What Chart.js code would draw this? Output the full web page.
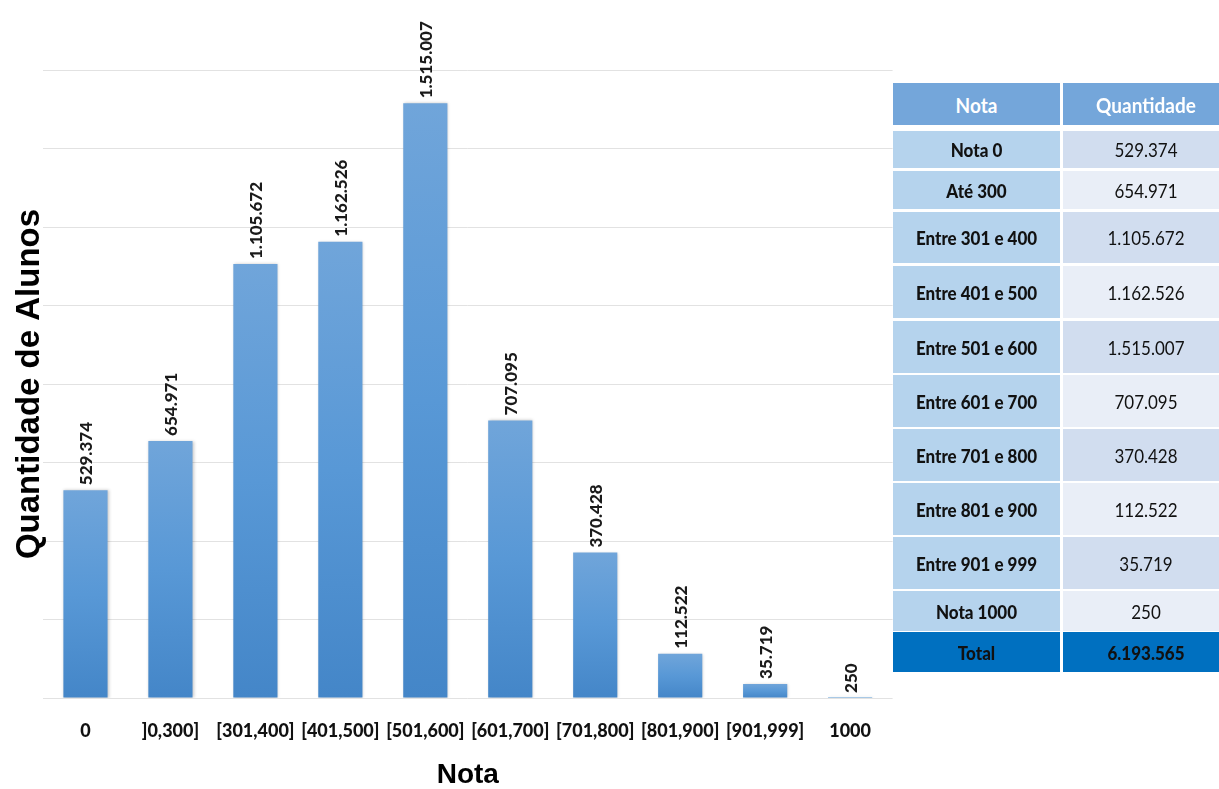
<!DOCTYPE html>
<html>
<head>
<meta charset="utf-8">
<script src="https://cdn.jsdelivr.net/npm/chart.js@4/dist/chart.umd.min.js"></script>
<style>
  html, body { margin: 0; padding: 0; background: #fff; overflow: hidden; }
  body { width: 1219px; height: 789px; position: relative; }
  #wrap { position: absolute; left: 0; top: 0; width: 893px; height: 789px; }
  #tbl { position: absolute; left: 0; top: 0; width: 1219px; height: 789px; pointer-events: none; }
  .cell { position: absolute; display: flex; align-items: center; justify-content: center;
          font-family: Lato, "Open Sans", sans-serif; font-size: 17px; color: #111; box-sizing: border-box; }
  .cell span { display: inline-block; transform: scaleY(1.12); }
  .hdr { background: #74a6da; color: #fff; font-weight: 700; font-size: 19px; }
  .lab { background: #b5d3ed; font-weight: 900; }
  .valD { background: #d1ddef; }
  .valL { background: #e9eef7; }
  .tot { background: #0070c0; font-weight: 900; color: #111; }
</style>
</head>
<body>
<div id="wrap"><canvas id="c"></canvas></div>
<div id="tbl"></div>
<script>
// ---- data ----
const categories = [ '0', ']0,300]', '[301,400]', '[401,500]', '[501,600]', '[601,700]', '[701,800]', '[801,900]', '[901,999]', '1000' ];
const values = [ 529374, 654971, 1105672, 1162526, 1515007, 707095, 370428, 112522, 35719, 250 ];
const tableLabels = [ 'Nota 0', 'Até 300', 'Entre 301 e 400', 'Entre 401 e 500', 'Entre 501 e 600', 'Entre 601 e 700', 'Entre 701 e 800', 'Entre 801 e 900', 'Entre 901 e 999', 'Nota 1000' ];
const tableHeader = [ 'Nota', 'Quantidade' ];
const totalLabel = 'Total';
const totalValue = 6193565;
const yAxisTitle = 'Quantidade de Alunos';
const xAxisTitle = 'Nota';

// ---- table layout (styling only) ----
const rowTops =    [ 83, 131, 171, 212, 266, 321, 375, 429, 483, 537, 591, 632 ];
const rowHeights = [ 42,  37,  38,  51,  52,  52,  52,  52,  52,  52,  40,  40 ];
const colLeft = [ 893, 1063 ];
const colWidth = [ 167, 166 ];

function fmt(n) { return String(n).replace(/\B(?=(\d{3})+(?!\d))/g, '.'); }

(function buildTable() {
  const t = document.getElementById('tbl');
  function cell(row, col, text, cls) {
    const d = document.createElement('div');
    d.className = 'cell ' + cls;
    d.style.left = colLeft[col] + 'px';
    d.style.width = colWidth[col] + 'px';
    d.style.top = rowTops[row] + 'px';
    d.style.height = rowHeights[row] + 'px';
    const s = document.createElement('span');
    s.textContent = text;
    d.appendChild(s);
    t.appendChild(d);
  }
  cell(0, 0, tableHeader[0], 'hdr');
  cell(0, 1, tableHeader[1], 'hdr');
  tableLabels.forEach((lab, i) => {
    cell(i + 1, 0, lab, 'lab');
    cell(i + 1, 1, fmt(values[i]), i % 2 === 0 ? 'valD' : 'valL');
  });
  cell(tableLabels.length + 1, 0, totalLabel, 'tot');
  cell(tableLabels.length + 1, 1, fmt(totalValue), 'tot');
})();

function barFill(ctx) {
  const chart = ctx.chart;
  const ys = chart.scales.y;
  if (!ys || ctx.parsed == null) return '#5b9bd5';
  const top = ys.getPixelForValue(ctx.parsed.y);
  const base = ys.getPixelForValue(0);
  if (!isFinite(top) || !isFinite(base) || base - top < 1) return '#5b9bd5';
  const g = chart.ctx.createLinearGradient(0, top, 0, base);
  g.addColorStop(0, '#70a5da');
  g.addColorStop(0.5, '#5898d6');
  g.addColorStop(1, '#4486c8');
  return g;
}

const shadowPlugin = {
  id: 'barShadow',
  beforeDatasetsDraw(chart) {
    const c = chart.ctx;
    c.save();
    c.shadowColor = 'rgba(0,0,0,0.22)';
    c.shadowBlur = 3;
    c.shadowOffsetX = 1;
    c.shadowOffsetY = 0;
  },
  afterDatasetsDraw(chart) { chart.ctx.restore(); }
};

const labelPlugin = {
  id: 'barLabels',
  afterDatasetsDraw(chart) {
    const c = chart.ctx;
    const meta = chart.getDatasetMeta(0);
    meta.data.forEach((el, i) => {
      c.save();
      c.translate(el.x + 1, el.y - 5);
      c.rotate(-Math.PI / 2);
      c.font = '900 17px Lato';
      c.fillStyle = '#1a1a1a';
      c.textAlign = 'left';
      c.textBaseline = 'middle';
      c.fillText(fmt(values[i]), 0, 0);
      c.restore();
    });
  }
};

function draw() {
  new Chart(document.getElementById('c'), {
    type: 'bar',
    data: {
      labels: categories,
      datasets: [{
        data: values,
        backgroundColor: barFill,
        borderWidth: 0,
        categoryPercentage: 0.52,
        barPercentage: 1
      }]
    },
    options: {
      responsive: true,
      maintainAspectRatio: false,
      animation: false,
      layout: { padding: { top: 70, left: 0, right: 0, bottom: 0 } },
      plugins: { legend: { display: false }, tooltip: { enabled: false } },
      scales: {
        x: {
          grid: { display: false, drawTicks: false },
          border: { display: false },
          ticks: { color: '#111', font: { family: 'Lato', size: 18, weight: '900' }, padding: 22, maxRotation: 0, autoSkip: false },
          title: { display: true, text: xAxisTitle, color: '#000', font: { family: 'Liberation Sans', size: 28, weight: 'bold', lineHeight: 1 }, padding: { top: 0, bottom: 0 } },
          afterFit(s) { s.height = 91; }
        },
        y: {
          min: 0, max: 1600000,
          ticks: { display: false, stepSize: 200000 },
          grid: { color: '#e2e2e2', lineWidth: 1, drawTicks: false },
          border: { display: false },
          title: { display: true, text: yAxisTitle, color: '#000', font: { family: 'Liberation Sans', size: 33, weight: 'bold', lineHeight: 1 }, padding: { top: 13, bottom: 0 } },
          afterFit(s) { s.width = 43; }
        }
      }
    },
    plugins: [shadowPlugin, labelPlugin]
  });
}

Promise.all([
  document.fonts.load('900 18px Lato'),
  document.fonts.load('900 17px Lato'),
  document.fonts.load('bold 28px "Liberation Sans"')
]).then(draw, draw);
</script>
</body>
</html>
